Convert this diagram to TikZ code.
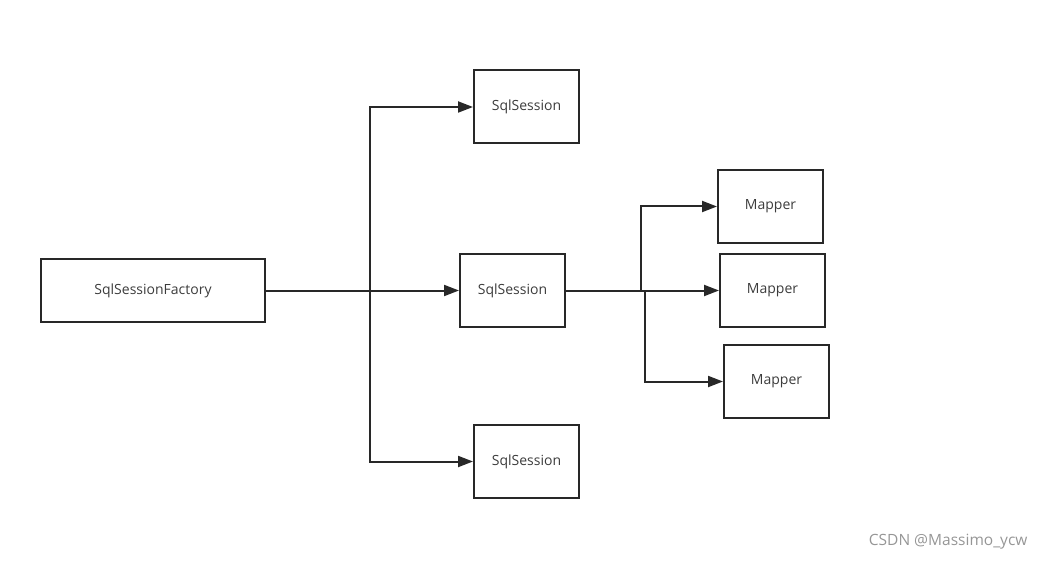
\documentclass[tikz,border=0pt]{standalone}
\usepackage{fontspec}
\setmainfont{Open Sans}
\usetikzlibrary{positioning,arrows.meta,calc}
\usepackage{xcolor}
\definecolor{boxbdr}{RGB}{40,40,40}
\definecolor{txtcol}{RGB}{60,60,60}
\definecolor{arrcol}{RGB}{40,40,40}
\definecolor{markgray}{RGB}{150,150,150}

\begin{document}
\begin{tikzpicture}[x=1pt,y=-1pt,font=\fontsize{14}{16}\selectfont]
\tikzset{
  BX/.style={draw=boxbdr,line width=2pt,rectangle,minimum width=105pt,minimum height=73pt,text=txtcol,inner sep=2pt},
  FL/.style={-{Triangle[length=15pt,width=11pt]},line width=2pt,arrcol},
}
\useasboundingbox (0,0) rectangle (1046,561);

\node[BX,minimum width=224pt,minimum height=63pt](fac) at (153,290.5){SqlSessionFactory};

\node[BX](ss1) at (526.5,107.0){SqlSession};
\node[BX](ss2) at (512.5,290.5){SqlSession};
\node[BX](ss3) at (526.5,461.5){SqlSession};

\node[BX](mp1) at (770.5,206.5){Mapper};
\node[BX](mp2) at (772.5,290.5){Mapper};
\node[BX](mp3) at (776.5,381.5){Mapper};

\coordinate (jn)  at (370,290.5);
\coordinate (jm1) at (641,290.5);
\coordinate (jm3) at (645,290.5);

\draw[FL](fac.east)--(ss2.west);
\draw[FL](jn)|-(ss1.west);
\draw[FL](jn)|-(ss3.west);

\draw[FL](ss2.east)--(mp2.west);
\draw[FL](jm1)|-(mp1.west);
\draw[FL](jm3)|-(mp3.west);

\node[text=markgray,font=\fontsize{15.5}{18}\selectfont,anchor=east](mark) at (1031,542){CSDN @Massimo\_ycw};

\end{tikzpicture}
\end{document}
